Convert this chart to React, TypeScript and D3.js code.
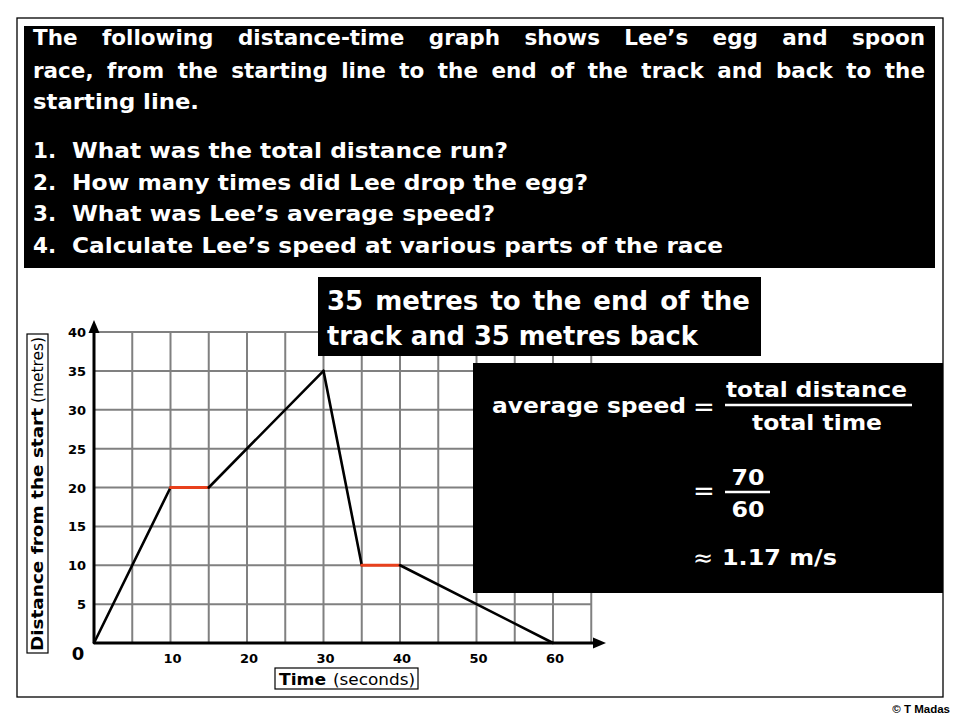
import * as React from 'react';
import * as d3 from 'd3';

// race data: time (s) and distance from the start (m)
const times = [0, 10, 15, 30, 35, 40, 60];
const distances = [0, 20, 20, 35, 10, 10, 0];

const xTicks = [10, 20, 30, 40, 50, 60];
const yTicks = [5, 10, 15, 20, 25, 30, 35, 40];
const xGrid = [5, 10, 15, 20, 25, 30, 35, 40, 45, 50, 55, 60, 65];
const yGrid = [5, 10, 15, 20, 25, 30, 35, 40];

const introLines = [
  'The following distance-time graph shows Lee’s egg and spoon',
  'race, from the starting line to the end of the track and back to the',
  'starting line.',
];
const questions = [
  'What was the total distance run?',
  'How many times did Lee drop the egg?',
  'What was Lee’s average speed?',
  'Calculate Lee’s speed at various parts of the race',
];
const questionEnds = [508, 588, 495, 723];
const calloutLines = ['35 metres to the end of the', 'track and 35 metres back'];

const FONT = "'DejaVu Sans', Verdana, sans-serif";
const RED = '#e8401c';

export default function App() {
  const ref = React.useRef<SVGSVGElement>(null);

  React.useEffect(() => {
    document.body.style.margin = '0';
    const svg = d3.select(ref.current);
    svg.selectAll('*').remove();

    const x = d3.scaleLinear().domain([0, 60]).range([94, 553]);
    const y = d3.scaleLinear().domain([0, 40]).range([643, 332]);

    const txt = (g: any, s: string, px: number, py: number, size: number, weight: string,
                 fill: string, anchor = 'start', len?: number) => {
      const t = g.append('text')
        .attr('x', px).attr('y', py)
        .attr('font-family', FONT).attr('font-size', size)
        .attr('font-weight', weight).attr('fill', fill)
        .attr('text-anchor', anchor)
        .text(s);
      if (len) t.attr('textLength', len).attr('lengthAdjust', 'spacingAndGlyphs');
      return t;
    };

    // words spread evenly between x0 and x1
    const justify = (g: any, line: string, x0: number, x1: number, py: number, size: number, fill: string) => {
      const words = line.split(' ');
      const nodes = words.map(w => txt(g, w, 0, py, size, 'bold', fill));
      const widths = nodes.map(n => (n.node() as SVGTextElement).getComputedTextLength());
      const total = d3.sum(widths);
      const gap = (x1 - x0 - total) / (words.length - 1);
      let cx = x0;
      nodes.forEach((n, i) => {
        n.attr('x', cx);
        cx += widths[i] + gap;
      });
    };

    svg.append('rect').attr('width', 960).attr('height', 720).attr('fill', '#fff');
    svg.append('rect').attr('x', 17).attr('y', 18).attr('width', 926).attr('height', 679)
      .attr('fill', 'none').attr('stroke', '#000').attr('stroke-width', 1.3);

    // question box
    svg.append('rect').attr('x', 24).attr('y', 26).attr('width', 911).attr('height', 242).attr('fill', '#000');
    justify(svg, introLines[0], 33, 925, 45, 21.5, '#fff');
    justify(svg, introLines[1], 33, 925, 78, 21.5, '#fff');
    txt(svg, introLines[2], 33, 109, 21.5, 'bold', '#fff', 'start', 166);
    questions.forEach((q, i) => {
      const by = 158 + i * 31.6;
      txt(svg, `${i + 1}.`, 33, by, 21.5, 'bold', '#fff');
      txt(svg, q, 72, by, 21.5, 'bold', '#fff', 'start', questionEnds[i] - 72);
    });

    // grid
    const grid = svg.append('g').attr('stroke', '#808080').attr('stroke-width', 2);
    grid.selectAll('line.v').data(xGrid).enter().append('line')
      .attr('x1', d => x(d)).attr('x2', d => x(d)).attr('y1', y(0)).attr('y2', y(40));
    grid.selectAll('line.h').data(yGrid).enter().append('line')
      .attr('x1', x(0)).attr('x2', x(65)).attr('y1', d => y(d)).attr('y2', d => y(d));

    // axes with arrows
    svg.append('line').attr('x1', x(0)).attr('x2', 596).attr('y1', y(0)).attr('y2', y(0))
      .attr('stroke', '#000').attr('stroke-width', 3);
    svg.append('line').attr('x1', x(0)).attr('x2', x(0)).attr('y1', y(0)).attr('y2', 331)
      .attr('stroke', '#000').attr('stroke-width', 3);
    svg.append('path').attr('d', `M606,${y(0)} L593,${y(0) - 5.5} L593,${y(0) + 5.5} Z`).attr('fill', '#000');
    svg.append('path').attr('d', `M${x(0)},320 L${x(0) - 5.5},333 L${x(0) + 5.5},333 Z`).attr('fill', '#000');

    // tick labels
    yTicks.forEach(v => txt(svg, String(v), 86, y(v) + 5, 13, 'bold', '#000', 'end'));
    xTicks.forEach(v => txt(svg, String(v), x(v) + 2, 663, 13, 'bold', '#000', 'middle'));
    txt(svg, '0', 78, 660, 18, 'bold', '#000', 'middle');

    // axis titles
    const yl = svg.append('g').attr('transform', 'translate(45,653) rotate(-90)');
    yl.append('rect').attr('x', 0).attr('y', -18).attr('width', 319).attr('height', 21)
      .attr('fill', '#fff').attr('stroke', '#000').attr('stroke-width', 1.2);
    txt(yl, 'Distance from the start', 2, -2, 15.5, 'bold', '#000', 'start', 243);
    txt(yl, '(metres)', 250, -2, 15.5, 'normal', '#000', 'start', 66);

    svg.append('rect').attr('x', 275).attr('y', 668).attr('width', 143).attr('height', 21)
      .attr('fill', '#fff').attr('stroke', '#000').attr('stroke-width', 1.2);
    txt(svg, 'Time', 279, 685, 16, 'bold', '#000', 'start', 47);
    txt(svg, '(seconds)', 333, 685, 16, 'normal', '#000', 'start', 82);

    // distance-time line: moving parts black, stationary parts red
    const pts = times.map((t, i) => [x(t), y(distances[i])] as [number, number]);
    for (let i = 0; i < pts.length - 1; i++) {
      const still = distances[i] === distances[i + 1];
      svg.append('line')
        .attr('x1', pts[i][0]).attr('y1', pts[i][1])
        .attr('x2', pts[i + 1][0]).attr('y2', pts[i + 1][1])
        .attr('stroke', still ? RED : '#000')
        .attr('stroke-width', still ? 3 : 2.6)
        .attr('stroke-linecap', 'round');
    }

    // callout
    svg.append('rect').attr('x', 318).attr('y', 277).attr('width', 443).attr('height', 79).attr('fill', '#000');
    justify(svg, calloutLines[0], 327, 750, 310, 26, '#fff');
    txt(svg, calloutLines[1], 327, 345, 26, 'bold', '#fff', 'start', 371);

    // average speed working
    svg.append('rect').attr('x', 473).attr('y', 363).attr('width', 470).attr('height', 230).attr('fill', '#000');
    txt(svg, 'average speed', 492, 413, 22, 'bold', '#fff', 'start', 194);
    txt(svg, '=', 704, 416, 26, 'normal', '#fff', 'middle');
    txt(svg, 'total distance', 726, 397, 22, 'bold', '#fff', 'start', 181);
    svg.append('line').attr('x1', 725).attr('x2', 912).attr('y1', 405).attr('y2', 405)
      .attr('stroke', '#fff').attr('stroke-width', 2.5);
    txt(svg, 'total time', 752, 430, 22, 'bold', '#fff', 'start', 130);

    txt(svg, '=', 704, 500, 26, 'normal', '#fff', 'middle');
    txt(svg, '70', 748, 485, 22, 'bold', '#fff', 'middle', 33);
    svg.append('line').attr('x1', 725).attr('x2', 770).attr('y1', 492).attr('y2', 492)
      .attr('stroke', '#fff').attr('stroke-width', 2.5);
    txt(svg, '60', 748, 517, 22, 'bold', '#fff', 'middle', 33);

    txt(svg, '≈', 703, 566, 24, 'normal', '#fff', 'middle');
    txt(svg, '1.17 m/s', 722, 565, 22, 'bold', '#fff', 'start', 115);

    txt(svg, '© T Madas', 950, 713, 11.5, 'bold', '#000', 'end').attr('font-family', "'Liberation Sans', Arial, sans-serif");
  }, []);

  return <svg ref={ref} width={960} height={720} style={{ display: 'block' }} />;
}
